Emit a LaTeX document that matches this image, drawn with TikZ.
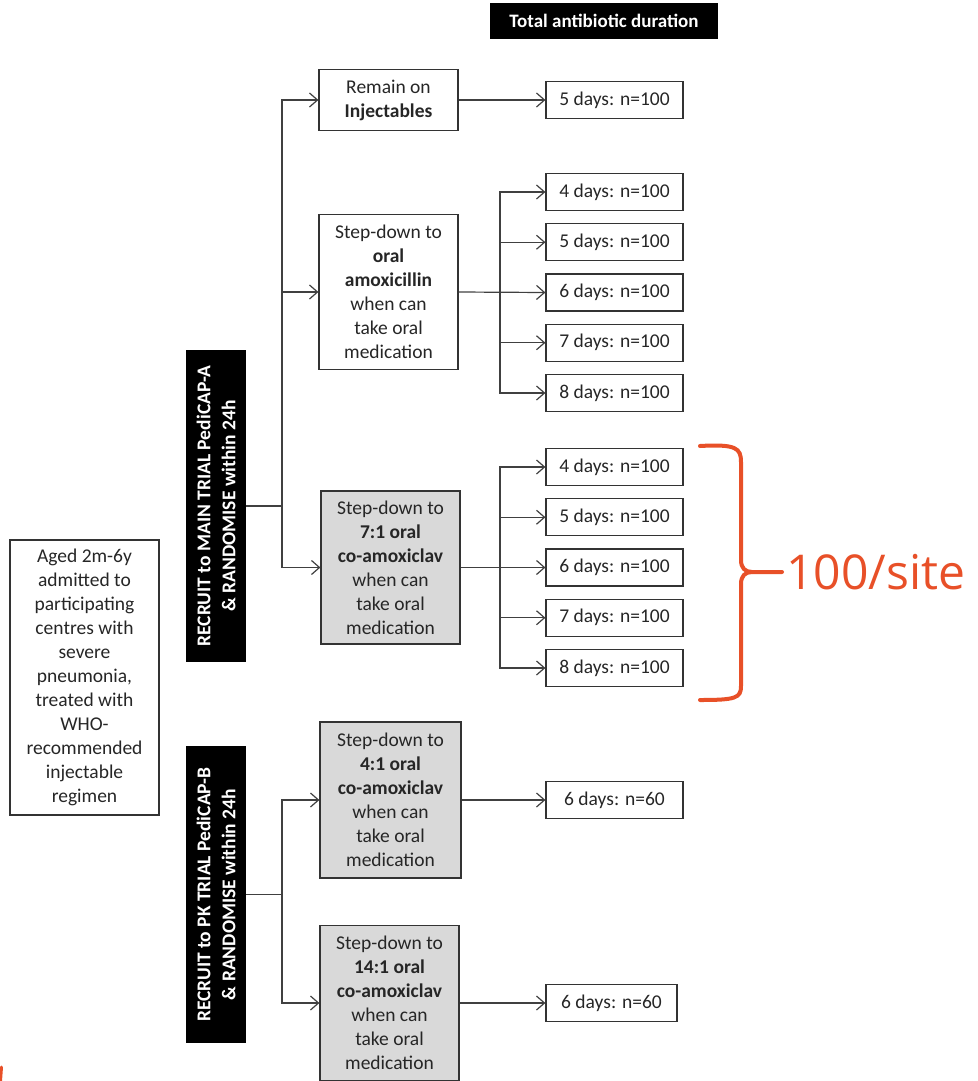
\documentclass[tikz,border=0pt]{standalone}
\usepackage{fontspec}
\setmainfont{Carlito}
\newfontfamily\sitefont{Open Sans}
\usetikzlibrary{arrows.meta}
\definecolor{siteorange}{RGB}{232,80,40}

\begin{document}
\begin{tikzpicture}[
  x=1pt, y=-1pt,
  box/.style={draw=black!80, line width=1.2pt, align=center, inner sep=2pt, text=black!85, font=\fontsize{19.5}{24}\selectfont},
  arm/.style={box, minimum width=139pt, minimum height=155pt},
  coarm/.style={arm, fill=gray!30},
  dur/.style={box, minimum width=137pt, minimum height=37pt},
  bar/.style={fill=black, text=white, align=center, rotate=90, minimum width=312pt, minimum height=60pt, font=\bfseries\fontsize{19.5}{25}\selectfont},
  head/.style={fill=black, text=white, minimum width=228pt, minimum height=36pt, font=\bfseries\fontsize{19}{22}\selectfont},
  arrow/.style={-{Straight Barb[length=8pt,width=14pt]}, line width=1.2pt, draw=black!75},
  bracec/.style={draw=siteorange, line width=4pt, line cap=round}
]
\useasboundingbox (0,0) rectangle (977,1081);

\node[head] (title) at (604,21) {Total antibiotic duration};

\node[box, minimum width=149pt, minimum height=275pt] (aged) at (84.5,677.5)
  {Aged 2m-6y\\admitted to\\participating\\centres with\\severe\\pneumonia,\\treated with\\WHO-\\recommended\\injectable\\regimen};

\node[bar] (mainbar) at (216,506) {RECRUIT to MAIN TRIAL PediCAP-A\\\& RANDOMISE within 24h};
\node[bar, minimum width=297pt] (pkbar) at (216,894.5) {RECRUIT to PK TRIAL PediCAP-B\\\& RANDOMISE within 24h};

% main trial arms
\node[box, minimum width=139pt, minimum height=61pt] (remain) at (388.5,100) {Remain on\\\textbf{Injectables}};
\node[arm] (amox) at (388.5,292) {Step-down to\\\textbf{oral}\\\textbf{amoxicillin}\\when can\\take oral\\medication};
\node[coarm, minimum height=153pt] (coA) at (390.5,567.5) {Step-down to\\\textbf{7:1 oral}\\\textbf{co-amoxiclav}\\when can\\take oral\\medication};

% pk trial arms
\node[coarm, minimum width=141pt, minimum height=156pt] (coB) at (390.5,800) {Step-down to\\\textbf{4:1 oral}\\\textbf{co-amoxiclav}\\when can\\take oral\\medication};
\node[coarm, minimum height=155pt] (coC) at (389.5,1003) {Step-down to\\\textbf{14:1 oral}\\\textbf{co-amoxiclav}\\when can\\take oral\\medication};

% durations
\node[dur] (durR) at (614.5,100) {5 days: n=100};
\foreach \d in {4,...,8} {
  \node[dur] (durA\d) at (614.5,{192+50.25*(\d-4)}) {\d\ days: n=100};
  \node[dur] (durB\d) at (614.5,{467+50.25*(\d-4)}) {\d\ days: n=100};
}
\node[dur] (durP) at (614.5,800) {6 days: n=60};
\node[dur, minimum width=131pt] (durQ) at (611.5,1003) {6 days: n=60};

\coordinate (jm) at (282,506);
\coordinate (jp) at (282,894.5);
\coordinate (ja) at (500,292);
\coordinate (jb) at (500,567.5);

\draw[arrow, -] (mainbar.south) -- (jm);
\draw[arrow] (jm) |- (remain.west);
\draw[arrow] (jm) |- (amox.west);
\draw[arrow] (jm) |- (coA.west);
\draw[arrow, -] (pkbar.south) -- (jp);
\draw[arrow] (jp) |- (coB.west);
\draw[arrow] (jp) |- (coC.west);

\draw[arrow] (remain.east) -- (durR.west);
\draw[arrow] (amox.east) -- (durA6.west);
\draw[arrow] (coA.east) -- (durB6.west);
\foreach \d in {4,5,7,8} {
  \draw[arrow] (ja) |- (durA\d.west);
  \draw[arrow] (jb) |- (durB\d.west);
}
\draw[arrow] (coB.east) -- (durP.west);
\draw[arrow] (coC.east) -- (durQ.west);

% orange brace
\coordinate (tip) at (752,572);
\draw[bracec] (700,446) .. controls (736,444) and (741,448) .. (741,462) -- (741,560)
  .. controls (741,568) and (745,572) .. (tip) -- (782,572);
\draw[bracec] (tip) .. controls (745,572) and (741,576) .. (741,584) -- (741,686)
  .. controls (741,698) and (736,700) .. (700,700);
\node[anchor=west, text=siteorange, font=\sitefont\fontsize{48}{50}\selectfont, inner sep=0pt] (site) at (786,572) {100/site};
\draw[bracec, line width=3pt] (1.5,1067) -- (0.5,1081);
\end{tikzpicture}
\end{document}
